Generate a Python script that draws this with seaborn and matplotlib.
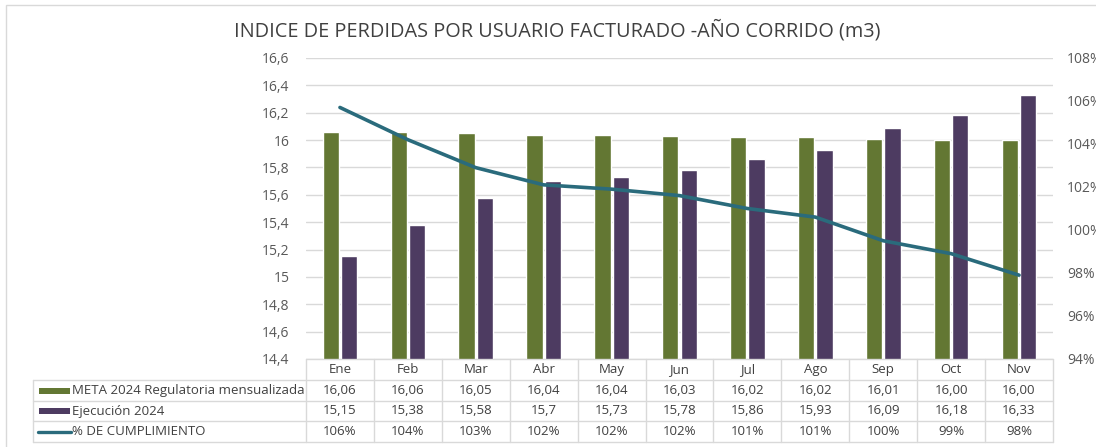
import numpy as np
import pandas as pd
import matplotlib
matplotlib.use("Agg")
import matplotlib.pyplot as plt
import matplotlib.transforms as mtransforms
from matplotlib.patches import Rectangle
from matplotlib.lines import Line2D
import seaborn as sns

# ---------------- data ----------------
meses = ["Ene", "Feb", "Mar", "Abr", "May", "Jun", "Jul", "Ago", "Sep", "Oct", "Nov"]
meta_2024 = [16.06, 16.06, 16.05, 16.04, 16.04, 16.03, 16.02, 16.02, 16.01, 16.00, 16.00]
ejecucion_2024 = [15.15, 15.38, 15.58, 15.70, 15.73, 15.78, 15.86, 15.93, 16.09, 16.18, 16.33]
cumplimiento = [105.7, 104.2, 102.9, 102.1, 101.9, 101.6, 101.0, 100.6, 99.5, 98.9, 97.9]
cumplimiento_labels = ["106%", "104%", "103%", "102%", "102%", "102%", "101%", "101%", "100%", "99%", "98%"]
series_names = ["META 2024 Regulatoria mensualizada", "Ejecución 2024", "% DE CUMPLIMIENTO"]
titulo = "INDICE DE PERDIDAS POR USUARIO FACTURADO -AÑO CORRIDO (m3)"
left_ticks = [14.4, 14.6, 14.8, 15.0, 15.2, 15.4, 15.6, 15.8, 16.0, 16.2, 16.4, 16.6]
right_ticks = [94, 96, 98, 100, 102, 104, 106, 108]

GREEN = "#637733"
PURPLE = "#4D3B61"
TEAL = "#2A6B7C"
GRID = "#D9D9D9"
TXT = "#595959"

sns.set_theme(style="white")
plt.rcParams["font.family"] = ["Open Sans", "DejaVu Sans"]

W, H = 1096, 447
fig = plt.figure(figsize=(W / 100, H / 100), dpi=100)
fig.patch.set_facecolor("white")

def fx(x):
    return x / W

def fy(y):
    return 1 - y / H

ax = fig.add_axes([fx(306), fy(359), fx(1053) - fx(306), fy(58) - fy(359)])

df = pd.DataFrame({
    "mes": meses * 2,
    "serie": [series_names[0]] * len(meses) + [series_names[1]] * len(meses),
    "valor": meta_2024 + ejecucion_2024,
})
sns.barplot(data=df, x="mes", y="valor", hue="serie", order=meses,
            hue_order=series_names[:2], palette=[GREEN, PURPLE],
            width=0.54, gap=0.115, saturation=1, legend=False, ax=ax,
            err_kws={"linewidth": 0})
ax.set_xlim(-0.5, len(meses) - 0.5)
ax.set_ylim(14.4, 16.6)
ax.set_yticks(left_ticks)
ax.set_yticklabels([f"{v:g}".replace(".", ",") for v in left_ticks], color=TXT, fontsize=10)
ax.tick_params(axis="y", length=0, pad=12)
ax.tick_params(axis="x", length=0, labelbottom=False)
ax.set_xlabel("")
ax.set_ylabel("")
ax.yaxis.grid(True, color=GRID, linewidth=1)
ax.set_axisbelow(True)
for s in ax.spines.values():
    s.set_visible(False)

ax2 = ax.twinx()
sns.lineplot(x=np.arange(len(meses)), y=cumplimiento, color=TEAL, linewidth=2.6, ax=ax2)
ax2.set_ylim(94, 108)
ax2.set_yticks(right_ticks)
ax2.set_yticklabels([f"{v}%" for v in right_ticks], color=TXT, fontsize=10)
ax2.tick_params(axis="y", length=0, pad=10)
ax2.set_ylabel("")
for s in ax2.spines.values():
    s.set_visible(False)
ax2.set_xlim(-0.5, len(meses) - 0.5)

# title
fig.text(fx(557), fy(31), titulo, ha="center", va="center", fontsize=14.3, color="#404040")

# outer chart frame
fig.add_artist(Rectangle((fx(6), fy(452)), fx(1100) - fx(6), fy(5) - fy(452),
                         transform=fig.transFigure, fill=False, edgecolor=GRID, linewidth=1))

# data table
trans = mtransforms.blended_transform_factory(ax.transData, fig.transFigure)
x_edges = np.arange(len(meses) + 1) - 0.5
row_edges = [359, 380, 401, 421, 442]
row_centers = [369.5, 390.5, 411, 431.5]

for y in row_edges[1:]:
    fig.add_artist(Line2D([fx(33), fx(1053)], [fy(y), fy(y)], transform=fig.transFigure,
                          color=GRID, linewidth=1))
fig.add_artist(Line2D([fx(306), fx(1053)], [fy(359), fy(359)], transform=fig.transFigure,
                      color=GRID, linewidth=1))
fig.add_artist(Line2D([fx(33), fx(33)], [fy(380), fy(442)], transform=fig.transFigure,
                      color=GRID, linewidth=1))
for xe in x_edges:
    fig.add_artist(Line2D([xe, xe], [fy(359), fy(442)], transform=trans, color=GRID, linewidth=1))

rows = [
    meses,
    [f"{v:.2f}".replace(".", ",") for v in meta_2024],
    [f"{v:g}".replace(".", ",") for v in ejecucion_2024],
    cumplimiento_labels,
]
for r, vals in enumerate(rows):
    for i, t in enumerate(vals):
        fig.text(i, fy(row_centers[r]), t, transform=trans, ha="center", va="center",
                 fontsize=9.5, color="#404040")

# legend keys in table
fig.add_artist(Rectangle((fx(39), fy(393.5)), fx(70) - fx(39), fy(387.5) - fy(393.5),
                         transform=fig.transFigure, facecolor=GREEN, edgecolor="none"))
fig.add_artist(Rectangle((fx(39), fy(414)), fx(70) - fx(39), fy(408) - fy(414),
                         transform=fig.transFigure, facecolor=PURPLE, edgecolor="none"))
fig.add_artist(Line2D([fx(38), fx(71)], [fy(432), fy(432)], transform=fig.transFigure,
                      color=TEAL, linewidth=2.4))
for r, name in enumerate(series_names):
    fig.text(fx(72), fy(row_centers[r + 1]), name, ha="left", va="center",
             fontsize=9.5, color="#404040")

fig.savefig("out.png", dpi=100, facecolor="white")
